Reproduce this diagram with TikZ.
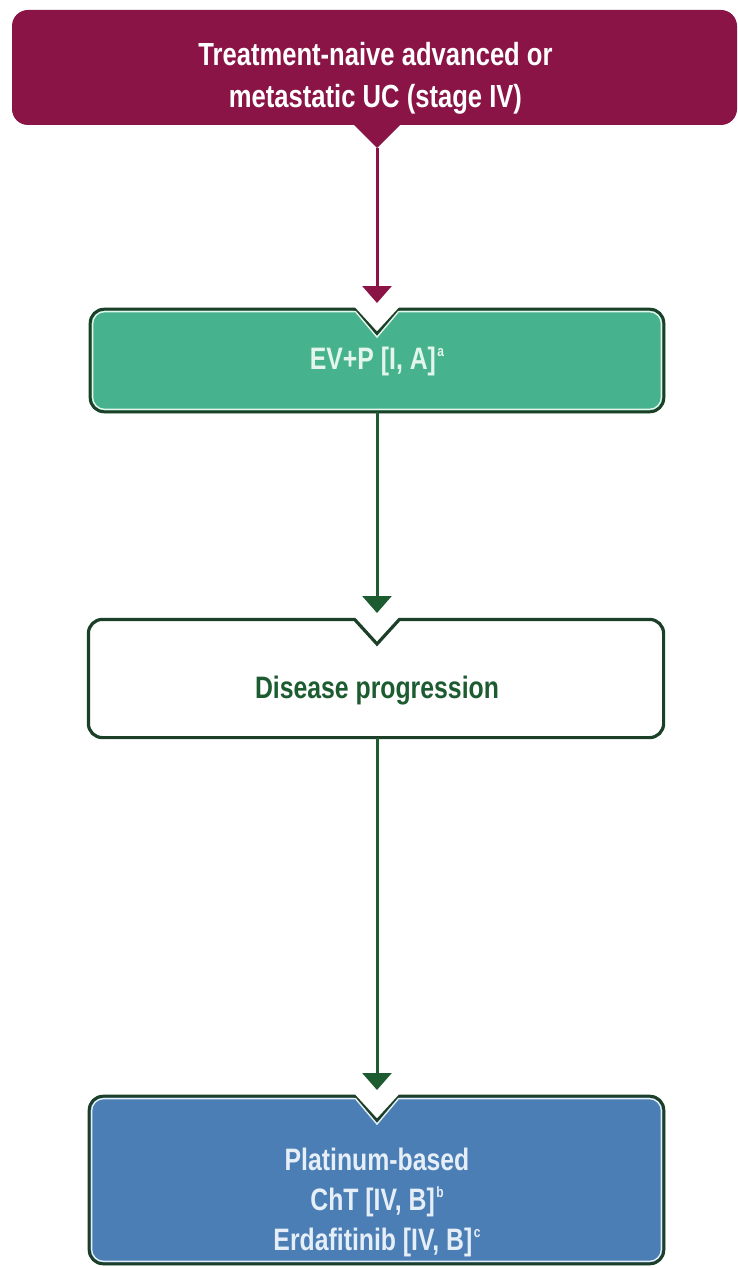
\documentclass[tikz,border=0pt]{standalone}
\usepackage{fontspec}
\setmainfont{Liberation Sans}[FakeStretch=0.8]
\usetikzlibrary{arrows.meta}
\definecolor{cMaroon}{HTML}{8A1446}
\definecolor{cGreen}{HTML}{46B38E}
\definecolor{cBlue}{HTML}{4A7EB4}
\definecolor{cEdge}{HTML}{1B3F27}
\definecolor{cArrow}{HTML}{1D5C31}
\definecolor{cMint}{HTML}{E4F6EC}
\definecolor{cPale}{HTML}{E6EEF8}
\newcommand\sps[1]{\kern1.5pt\raisebox{0.75ex}{\fontsize{15}{15}\selectfont #1}}
% notched rounded box path: x1,y1,x2,y2,inset,radius
\newcommand\nbpath[6]{%
 ({400-0.41*#5},{#2+#5}) -- ({#3-#5-#6},{#2+#5})
 arc[start angle=-90,end angle=0,radius=#6] -- ({#3-#5},{#4-#5-#6})
 arc[start angle=0,end angle=90,radius=#6] -- ({#1+#5+#6},{#4-#5})
 arc[start angle=90,end angle=180,radius=#6] -- ({#1+#5},{#2+#5+#6})
 arc[start angle=180,end angle=270,radius=#6] -- ({354+0.41*#5},{#2+#5})
 -- (377,{#2+24+1.41*#5}) -- cycle}
\tikzset{
 lbl/.style={align=center,inner sep=0pt,font=\bfseries\fontsize{31}{40}\selectfont},
 conn/.style={line width=3pt,-{Triangle[width=29pt,length=17pt]}},
}
\begin{document}
\begin{tikzpicture}[x=1pt,y=-1pt]
\useasboundingbox (0,0) rectangle (738,1268);
% top box
\fill[cMaroon,rounded corners=16] (12,10) rectangle (737,125);
\fill[cMaroon] (353,124) -- (377,148) -- (401,124) -- cycle;
\node[lbl,text=white,font=\bfseries\fontsize{32}{42}\selectfont] (start) at (375.5,78) {Treatment-naive advanced or\\metastatic UC (stage IV)};
\coordinate (startTip) at (377,148);
% EV+P box
\fill[cGreen] \nbpath{89}{308}{665}{413}{0}{15};
\draw[cEdge,line width=3pt] \nbpath{89}{308}{665}{413}{1.2}{14};
\draw[cMint,line width=1.4pt] \nbpath{89}{308}{665}{413}{3.6}{12};
\node[lbl,text=cMint] (evp) at (377,361) {EV+P [I, A]\sps{a}};
\coordinate (evpIn) at (377,303);
\coordinate (evpOut) at (377,412);
% disease progression
\fill[white] \nbpath{87}{618}{665}{739}{0}{15};
\draw[cEdge,line width=3.2pt] \nbpath{87}{618}{665}{739}{1.4}{14};
\node[lbl,text=cArrow] (dp) at (377,691) {Disease progression};
\coordinate (dpIn) at (377,613);
\coordinate (dpOut) at (377,738);
% bottom box
\fill[cBlue] \nbpath{88}{1095}{665}{1265}{0}{15};
\draw[cEdge,line width=3pt] \nbpath{88}{1095}{665}{1265}{1.2}{14};
\draw[cPale,line width=1.4pt] \nbpath{88}{1095}{665}{1265}{3.6}{12};
\node[lbl,text=cPale] (plat) at (377,1202) {Platinum-based\\ChT [IV, B]\sps{b}\\Erdafitinib [IV, B]\sps{c}};
\coordinate (platIn) at (377,1090);
% connectors
\draw[conn,cMaroon] (startTip) -- (evpIn);
\draw[conn,cArrow] (evpOut) -- (dpIn);
\draw[conn,cArrow] (dpOut) -- (platIn);
\end{tikzpicture}
\end{document}
